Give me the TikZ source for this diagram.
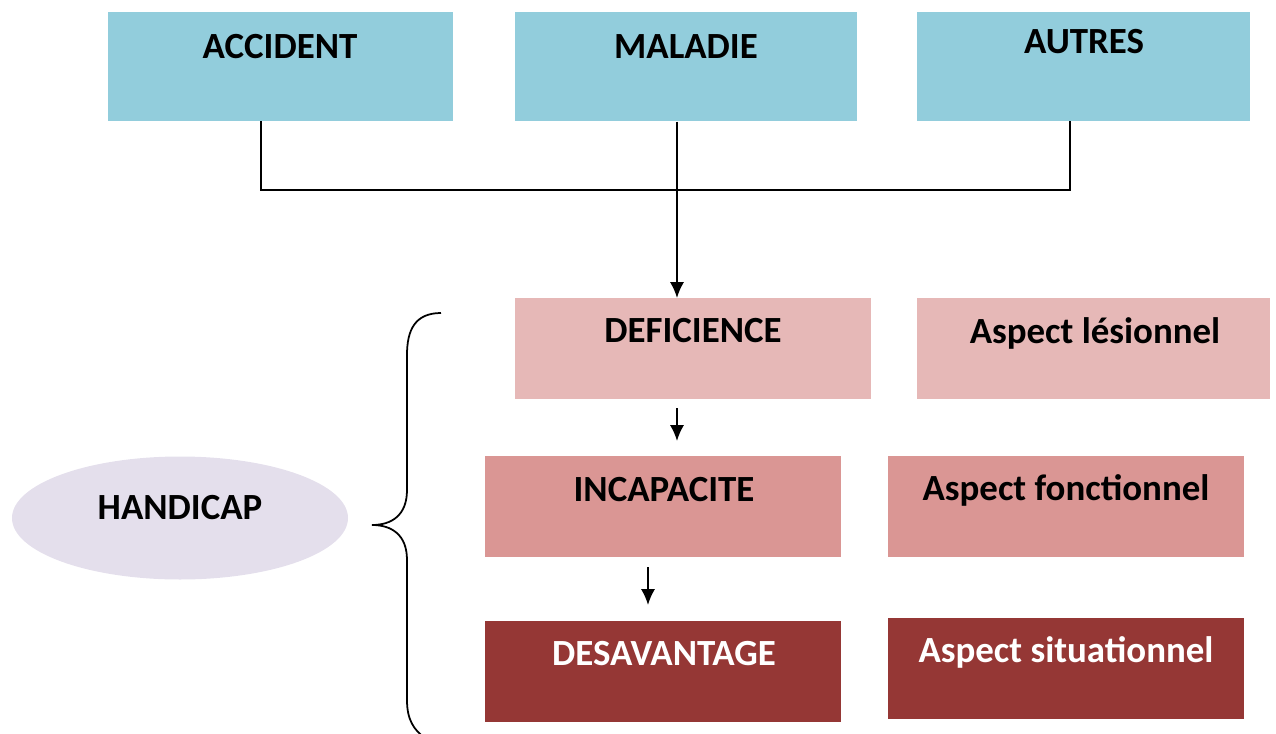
\documentclass[tikz,border=0pt]{standalone}
\usepackage{fontspec}
\setmainfont{Carlito}
\usetikzlibrary{arrows.meta}
\usetikzlibrary{shapes.geometric}

\definecolor{causeblue}{HTML}{92CDDC}
\definecolor{rosepale}{HTML}{E6B8B7}
\definecolor{rosemid}{HTML}{DA9694}
\definecolor{rosedark}{HTML}{953735}
\definecolor{lilac}{HTML}{E4DFEC}

\begin{document}
\begin{tikzpicture}[x=0.02cm, y=-0.02cm,
    box/.style={rectangle, inner sep=0pt, anchor=north west},
    txt/.style={font=\fontsize{21}{25}\selectfont\bfseries},
    link/.style={line width=1.1pt},
    arrow/.style={line width=1.1pt, -{Latex[length=9pt,width=8pt]}}]
    \useasboundingbox (0,0) rectangle (1276,734);

    % causes
    \node[box, fill=causeblue, minimum width=345*0.02cm, minimum height=109*0.02cm] (accident) at (108,12) {};
    \node[box, fill=causeblue, minimum width=342*0.02cm, minimum height=109*0.02cm] (maladie) at (515,12) {};
    \node[box, fill=causeblue, minimum width=333*0.02cm, minimum height=109*0.02cm] (autres) at (917,12) {};
    \node[txt] at (280,47) {ACCIDENT};
    \node[txt] at (686,47) {MALADIE};
    \node[txt] at (1084,42) {AUTRES};

    % levels
    \node[box, fill=rosepale, minimum width=356*0.02cm, minimum height=101*0.02cm] (deficience) at (515,298) {};
    \node[box, fill=rosepale, minimum width=353*0.02cm, minimum height=101*0.02cm] (lesion) at (917,298) {};
    \node[box, fill=rosemid, minimum width=356*0.02cm, minimum height=101*0.02cm] (incapacite) at (485,456) {};
    \node[box, fill=rosemid, minimum width=356*0.02cm, minimum height=101*0.02cm] (fonction) at (888,456) {};
    \node[box, fill=rosedark, minimum width=356*0.02cm, minimum height=101*0.02cm] (desavantage) at (485,621) {};
    \node[box, fill=rosedark, minimum width=356*0.02cm, minimum height=101*0.02cm] (situation) at (888,618) {};
    \node[txt] at (693,331) {DEFICIENCE};
    \node[txt] at (1095,333) {Aspect lésionnel};
    \node[txt] at (664,490) {INCAPACITE};
    \node[txt] at (1066,490) {Aspect fonctionnel};
    \node[txt, text=white] at (664,654) {DESAVANTAGE};
    \node[txt, text=white] at (1066,652) {Aspect situationnel};

    \node[ellipse, fill=lilac, minimum width=336*0.02cm, minimum height=123*0.02cm] (handicap) at (180,518) {};
    \node[txt] at (180,508) {HANDICAP};

    % connectors
    \coordinate (join) at (677,190);
    \coordinate (accfoot) at (261,121);
    \coordinate (autfoot) at (1070,121);
    \draw[link] (accfoot) |- (join) -| (autfoot);
    \draw[arrow] (join |- maladie.south) -- (join |- deficience.north);

    \coordinate (a1) at (677,408);
    \coordinate (a2) at (677,441);
    \coordinate (b1) at (648,567);
    \coordinate (b2) at (648,605);
    \draw[arrow] (a1) -- (a2);
    \draw[arrow] (b1) -- (b2);

    % brace
    \draw[line width=1pt] (441,313) .. controls (415,313) and (407,330) .. (407,355) -- (407,490)
        .. controls (407,515) and (392,525) .. (372,525)
        .. controls (392,525) and (407,535) .. (407,560) -- (407,700)
        .. controls (407,720) and (414,730) .. (425,738);
\end{tikzpicture}
\end{document}
